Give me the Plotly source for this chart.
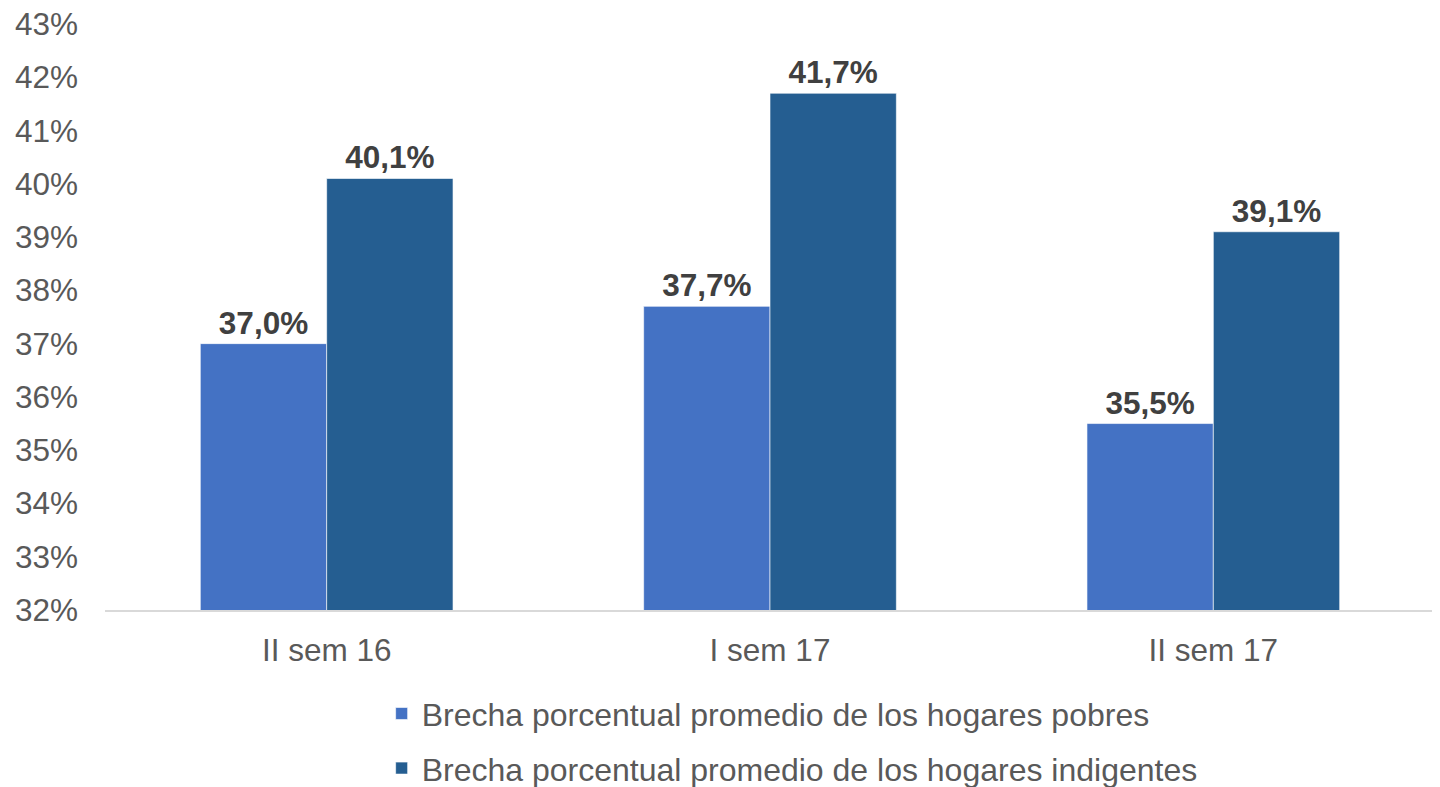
import plotly.graph_objects as go

# datos
periodos = ["II sem 16", "I sem 17", "II sem 17"]
pobres = [37.0, 37.7, 35.5]
indigentes = [40.1, 41.7, 39.1]
nombre_pobres = "Brecha porcentual promedio de los hogares pobres"
nombre_indigentes = "Brecha porcentual promedio de los hogares indigentes"

FONT = "Liberation Sans, Arial, sans-serif"

fig = go.Figure()
fig.add_trace(go.Bar(x=periodos, y=pobres, name=nombre_pobres,
                     marker_color="#4472C4", legendgroup="a"))
fig.add_trace(go.Bar(x=periodos, y=indigentes, name=nombre_indigentes,
                     marker_color="#255E91", legendgroup="b"))

fig.update_traces(texttemplate="<b>%{y:.1f}%</b>", textposition="outside",
                  textfont=dict(size=31.5, color="#404040", family=FONT),
                  cliponaxis=False,
                  marker_line=dict(color="rgba(255,255,255,0.6)", width=1))

# la pagina tiene 8px de margen, por eso el tamaño es algo menor
fig.update_layout(
    width=1432, height=779,
    paper_bgcolor="white", plot_bgcolor="white",
    separators=",.",
    barmode="group", bargap=0.43, bargroupgap=0,
    margin=dict(l=97, r=5, t=16, b=177, autoexpand=False),
    font=dict(family=FONT, size=31.5, color="#595959"),
    showlegend=True,
    legend=dict(orientation="v", x=0.208, xanchor="left",
                y=-0.13, yanchor="top", tracegroupgap=10,
                font=dict(size=32, color="#595959")),
)
fig.update_yaxes(range=[32, 43], dtick=1, ticksuffix="%", showgrid=False,
                 zeroline=False, showline=False, ticklabelstandoff=26,
                 ticklabeloverflow="allow", automargin=False,
                 tickfont=dict(size=31.5))
fig.update_xaxes(showline=True, linecolor="#D9D9D9", linewidth=2,
                 ticks="", ticklabelstandoff=11, automargin=False,
                 tickfont=dict(size=31.5))

fig.write_html("out.html")
